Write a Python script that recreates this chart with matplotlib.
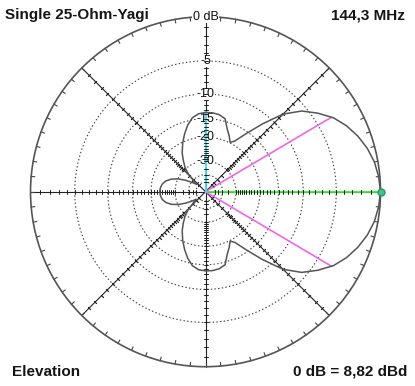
import numpy as np
import matplotlib.pyplot as plt

plt.rcParams['font.family'] = ['Liberation Sans', 'DejaVu Sans']

# radiation pattern, upper half (deg, dB); lower half mirrors it
angles = [0, 5, 10, 15, 20, 25, 30, 35, 40, 45, 50, 55, 60, 63.5, 67, 71, 75,
          80, 85, 90, 95, 100, 105, 110, 115, 121, 125, 130, 134, 137, 141,
          145, 150, 155, 160, 165, 170, 175, 180]
gain_db = [0, -0.12, -0.35, -0.75, -1.3, -2.0, -2.9, -4.2, -5.7, -8.0, -11.7,
           -15.5, -18.8, -19.8, -18.2, -16.6, -14.4, -13.8, -13.6, -13.6,
           -13.8, -14.5, -16.0, -18.0, -20.2, -23.2, -25.8, -29.2, -33.5,
           -39.9, -46.0, -41.0, -35.0, -30.0, -26.8, -24.8, -23.7, -23.2, -23.0]

beam_angle = 30.6     # -3 dB points
beam_db = -3.07
side_angle = 90
side_db = -13.6

ring_db = [-5, -10, -15, -20, -30, -40, -50]
label_db = [-5, -10, -15, -20, -30]
tick_db = list(range(-1, -31, -1)) + [-35, -40, -45, -50]

title = 'Single 25-Ohm-Yagi'
freq = '144,3 MHz'
plane = 'Elevation'
ref = '0 dB = 8,82 dBd'
DMIN = -150


# ARRL log-periodic scale
def fwd(db):
    return 0.89 ** (-np.asarray(db, dtype=float) / 2)


def inv(r):
    return -2 * np.log(np.clip(r, 1e-12, None)) / np.log(0.89)


fig = plt.figure(figsize=(4.15, 3.86), dpi=100)
fig.patch.set_facecolor('white')
ax = fig.add_axes([0.0735, 0.05, 0.8434, 0.9067], projection='polar')
ax.set_rscale('function', functions=(fwd, inv))
ax.set_rlim(DMIN, 0)
ax.set_xticks([])
ax.set_yticks([])
ax.grid(False)
ax.spines['polar'].set_color('#555555')
ax.spines['polar'].set_linewidth(1.2)

full = np.linspace(0, 2 * np.pi, 361)
for d in ring_db:
    ax.plot(full, np.full_like(full, d), color='#444444', lw=0.8,
            ls=(0, (1.3, 2.0)), zorder=1)

# axes lines
for a in range(0, 360, 45):
    t = np.deg2rad(a)
    ax.plot([t, t], [DMIN, 0], color='#222222', lw=0.8, zorder=2)

# outer circle ticks
for a in range(0, 360, 5):
    t = np.deg2rad(a)
    ax.plot([t, t], [-0.35, 0], color='#444444', lw=0.8, zorder=2, clip_on=False)

# radial labels
for d in label_db:
    ax.text(np.pi / 2, d, str(d), ha='center', va='center', fontsize=9,
            color='#111111', zorder=3,
            bbox=dict(fc='white', ec='none', pad=0.2))
ax.text(np.pi / 2, 0, '0 dB', ha='center', va='center', fontsize=9,
        color='#111111', zorder=3, clip_on=False,
        bbox=dict(fc='white', ec='none', pad=0.3))

# markers: max direction, -3 dB beam, sidelobe
ax.plot([0, 0], [DMIN, 0], color='#33ee33', lw=1.3, zorder=4)
for s in (1, -1):
    t = np.deg2rad(s * beam_angle)
    ax.plot([t, t], [DMIN, beam_db], color='#ee66ee', lw=1.2, zorder=4)
ts = np.deg2rad(side_angle)
ax.plot([ts, ts], [DMIN, side_db], color='#33ddee', lw=1.3, zorder=4)

# dB ticks along the axes lines
for a in range(0, 360, 45):
    t = np.deg2rad(a)
    ax.plot(np.full(len(tick_db), t), tick_db, ls='none', marker=(2, 2, a),
            ms=2.8, mew=0.6, color='#222222', zorder=5)

# pattern
th = np.deg2rad(np.r_[angles, -np.array(angles[::-1])])
db = np.r_[gain_db, gain_db[::-1]]
ax.plot(th, db, color='#555555', lw=1.1, zorder=6)
ax.plot([0], [0], marker='o', ms=5, mfc='#40c0a0', mec='#2a9a4a', mew=1,
        zorder=7, clip_on=False)

fig.text(5 / 415, 1 - 18.5 / 386, title, ha='left', va='baseline',
         fontsize=11, fontweight='bold', color='#151515')
fig.text(405 / 415, 1 - 20 / 386, freq, ha='right', va='baseline',
         fontsize=11, fontweight='bold', color='#151515')
fig.text(12 / 415, 1 - 376 / 386, plane, ha='left', va='baseline',
         fontsize=11, fontweight='bold', color='#151515')
fig.text(407 / 415, 1 - 376 / 386, ref, ha='right', va='baseline',
         fontsize=11, fontweight='bold', color='#151515')

fig.savefig('out.png', dpi=100)
